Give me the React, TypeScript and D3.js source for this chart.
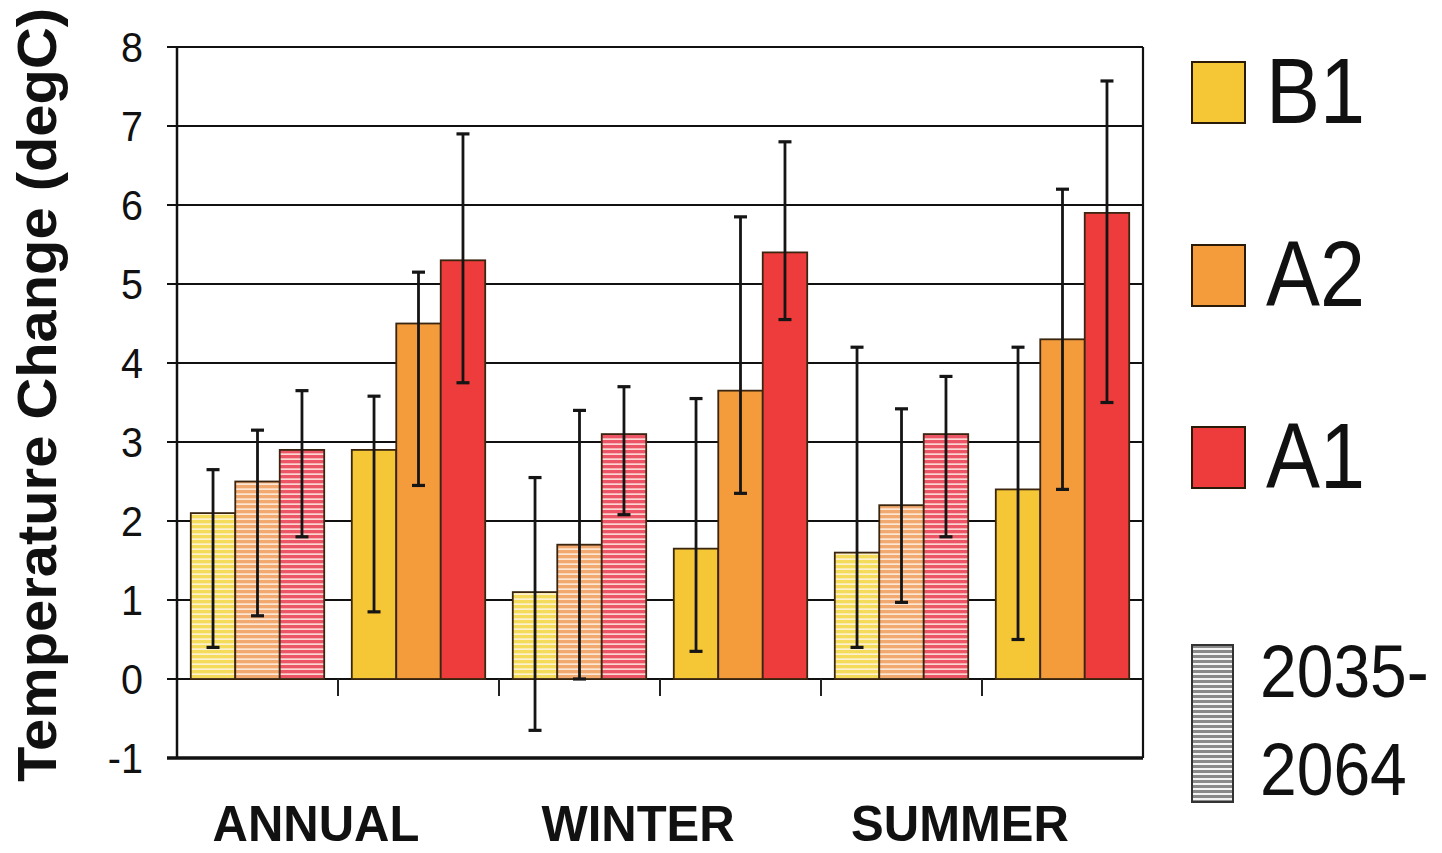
import React from "react";
import * as d3 from "d3";

const seasons = ["ANNUAL", "WINTER", "SUMMER"];
const periods = ["2035-2064", "2070-2099"];
const scenarios = ["B1", "A2", "A1"];
const yTicks = [-1, 0, 1, 2, 3, 4, 5, 6, 7, 8];

// 2035-2064 (hatched) mean change by season
const b1Early = [2.1, 1.1, 1.6];
const a2Early = [2.5, 1.7, 2.2];
const a1Early = [2.9, 3.1, 3.1];
// 2070-2099 (solid) mean change by season
const b1Late = [2.9, 1.65, 2.4];
const a2Late = [4.5, 3.65, 4.3];
const a1Late = [5.3, 5.4, 5.9];

// range (error bars) low/high
const b1EarlyLow = [0.4, -0.65, 0.4];
const b1EarlyHigh = [2.65, 2.55, 4.2];
const a2EarlyLow = [0.8, 0.0, 0.97];
const a2EarlyHigh = [3.15, 3.4, 3.42];
const a1EarlyLow = [1.8, 2.08, 1.8];
const a1EarlyHigh = [3.65, 3.7, 3.83];
const b1LateLow = [0.85, 0.35, 0.5];
const b1LateHigh = [3.58, 3.55, 4.2];
const a2LateLow = [2.45, 2.35, 2.4];
const a2LateHigh = [5.15, 5.85, 6.2];
const a1LateLow = [3.75, 4.55, 3.5];
const a1LateHigh = [6.9, 6.8, 7.57];

const solidColors: Record<string, string> = { B1: "#F5C736", A2: "#F49B3C", A1: "#EE3B3B" };
const hatchColors: Record<string, string> = { B1: "#F5DB5A", A2: "#F2A970", A1: "#EC5565" };

type Bar = { season: string; period: string; scen: string; v: number; lo: number; hi: number };

const table: Bar[] = [];
seasons.forEach((s, i) => {
  const early = [
    [b1Early[i], b1EarlyLow[i], b1EarlyHigh[i]],
    [a2Early[i], a2EarlyLow[i], a2EarlyHigh[i]],
    [a1Early[i], a1EarlyLow[i], a1EarlyHigh[i]],
  ];
  const late = [
    [b1Late[i], b1LateLow[i], b1LateHigh[i]],
    [a2Late[i], a2LateLow[i], a2LateHigh[i]],
    [a1Late[i], a1LateLow[i], a1LateHigh[i]],
  ];
  scenarios.forEach((sc, j) => {
    table.push({ season: s, period: periods[0], scen: sc, v: early[j][0], lo: early[j][1], hi: early[j][2] });
  });
  scenarios.forEach((sc, j) => {
    table.push({ season: s, period: periods[1], scen: sc, v: late[j][0], lo: late[j][1], hi: late[j][2] });
  });
});

const FONT = "'Liberation Sans', Arial, Helvetica, sans-serif";

export default function App() {
  const W = 1442, H = 853;
  const left = 177, right = 1143, top = 47, bottom = 758;
  const groupKeys = seasons.flatMap((s) => periods.map((p) => s + "|" + p));
  const x0 = d3.scaleBand<string>().domain(groupKeys).range([left, right]).padding(0);
  const x1 = d3.scaleBand<string>().domain(scenarios).range([0, x0.bandwidth()]).paddingInner(0).paddingOuter(0.31);
  const y = d3.scaleLinear().domain([-1, 8]).range([bottom, top]);
  const capW = 13;

  return (
    <svg width={W} height={H} style={{ position: "absolute", left: 0, top: 0, background: "#fff" }} fontFamily={FONT}>
      <defs>
        {scenarios.map((sc) => (
          <pattern key={sc} id={"hatch-" + sc} patternUnits="userSpaceOnUse" width={8} height={5}>
            <rect width={8} height={5} fill={hatchColors[sc]} />
            <rect y={3.3} width={8} height={1.7} fill="#FFF6EE" opacity={0.8} />
          </pattern>
        ))}
        <pattern id="hatch-grey" patternUnits="userSpaceOnUse" width={8} height={5}>
          <rect width={8} height={5} fill="#8a8a8a" />
          <rect y={3} width={8} height={2} fill="#f4f4f4" />
        </pattern>
      </defs>
      <rect width={W} height={H} fill="#fff" />

      {/* gridlines */}
      {yTicks.map((t) => (
        <line key={t} x1={left - 10} x2={right} y1={y(t)} y2={y(t)} stroke="#111" strokeWidth={t === -1 ? 3.5 : 2.2} />
      ))}
      {/* frame */}
      <line x1={left} x2={left} y1={top} y2={bottom} stroke="#111" strokeWidth={2.5} />
      <line x1={right} x2={right} y1={top} y2={bottom} stroke="#111" strokeWidth={2.2} />

      {/* category ticks on zero line */}
      {groupKeys.slice(1).map((k) => (
        <line key={k} x1={x0(k)!} x2={x0(k)!} y1={y(0)} y2={y(0) + 17} stroke="#222" strokeWidth={2} />
      ))}

      {/* bars */}
      {table.map((d, i) => {
        const gx = x0(d.season + "|" + d.period)!;
        const bx = gx + x1(d.scen)!;
        const y0 = y(0), yv = y(d.v);
        const fill = d.period === periods[0] ? `url(#hatch-${d.scen})` : solidColors[d.scen];
        return (
          <rect key={i} x={bx} y={Math.min(y0, yv)} width={x1.bandwidth()} height={Math.abs(y0 - yv)}
            fill={fill} stroke="#3a2610" strokeWidth={1.8} />
        );
      })}
      {/* error bars */}
      {table.map((d, i) => {
        const gx = x0(d.season + "|" + d.period)!;
        const cx = gx + x1(d.scen)! + x1.bandwidth() / 2;
        return (
          <g key={"e" + i} stroke="#151515" strokeWidth={2.8}>
            <line x1={cx} x2={cx} y1={y(d.lo)} y2={y(d.hi)} />
            <line x1={cx - capW / 2} x2={cx + capW / 2} y1={y(d.lo)} y2={y(d.lo)} strokeWidth={3.2} />
            <line x1={cx - capW / 2} x2={cx + capW / 2} y1={y(d.hi)} y2={y(d.hi)} strokeWidth={3.2} />
          </g>
        );
      })}

      {/* y tick labels */}
      {yTicks.map((t) => (
        <text key={t} transform={`translate(143,${y(t) + 15}) scale(0.92,1)`} textAnchor="end" fontSize={43} fill="#111">
          {t}
        </text>
      ))}

      {/* y title */}
      <text transform={`translate(56,${(8 + 782) / 2}) rotate(-90)`} textAnchor="middle" fontSize={56} fontWeight="bold"
        fill="#111" textLength={774} lengthAdjust="spacingAndGlyphs">
        Temperature Change (degC)
      </text>

      {/* season labels */}
      {seasons.map((s) => {
        const bx = x0(s + "|" + periods[1])!;
        return (
          <text key={s} transform={`translate(${bx - 22},841) scale(0.98,1)`} textAnchor="middle" fontSize={50}
            fontWeight="bold" fill="#111">
            {s}
          </text>
        );
      })}

      {/* legend */}
      {scenarios.map((sc, i) => {
        const ly = [62, 245, 427][i];
        return (
          <g key={sc}>
            <rect x={1192} y={ly} width={53} height={61} fill={solidColors[sc]} stroke="#2a1a08" strokeWidth={2} />
            <text transform={`translate(1266,${ly + 61}) scale(0.88,1)`} fontSize={92} fill="#111">{sc}</text>
          </g>
        );
      })}
      <rect x={1192} y={645} width={41} height={157} fill="url(#hatch-grey)" stroke="#333" strokeWidth={2} />
      <text transform="translate(1260,697) scale(0.88,1)" fontSize={75} fill="#111">2035-</text>
      <text transform="translate(1260,795) scale(0.88,1)" fontSize={75} fill="#111">2064</text>
    </svg>
  );
}
